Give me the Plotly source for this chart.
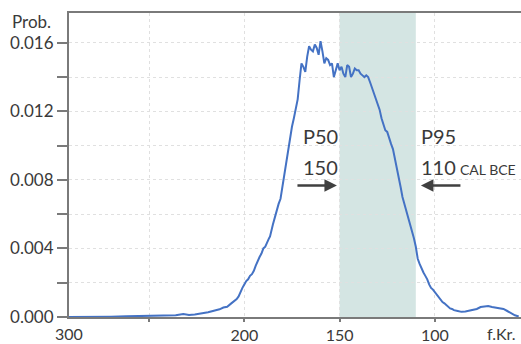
import plotly.graph_objects as go

years = [292, 285, 278, 270, 262, 255, 248, 242, 236, 232, 229, 226, 222, 219, 216, 213, 211, 209,
         207, 205, 204, 203, 202, 201, 200, 199, 198, 197, 196, 195, 194, 193, 192, 191, 190, 189,
         188, 187, 186.5, 186, 185, 184, 183, 182, 181, 180, 179, 178, 177, 176, 175, 174, 173, 172,
         171, 170, 169, 168, 167, 166, 165, 164, 163, 162, 161, 160, 159, 158, 157, 156, 155, 154,
         153, 152, 151, 150, 149, 148, 147, 146, 145, 144, 143, 142, 141, 140, 139, 138, 137, 136,
         135, 134, 133, 132, 131, 130, 129, 128, 127, 126, 125, 124, 123, 122, 121, 120, 119, 118,
         117, 116, 115, 114, 113, 112, 111, 110, 109, 108, 107, 106, 105, 104, 103, 102, 101, 100,
         99, 98, 97, 96, 95, 94, 93, 92, 91, 90, 88, 86, 84, 82, 80, 78, 76, 74, 72, 70, 68, 66, 64,
         62, 60, 58, 56]
prob = [0.0, 0.00002, 0.00003, 0.00002, 0.00004, 0.00005, 0.00006, 0.00008, 0.0001, 0.00018,
        0.00012, 0.00015, 0.00022, 0.00028, 0.00037, 0.00045, 0.00055, 0.0006,
        0.00078, 0.00095, 0.00105, 0.0012, 0.0015, 0.0017, 0.0019, 0.0021, 0.0022, 0.0024, 0.0025,
        0.0027, 0.0030, 0.0033, 0.0035, 0.0037, 0.0040, 0.0041,
        0.0044, 0.0046, 0.0047, 0.0050, 0.0054, 0.0058, 0.0063, 0.0066, 0.0069, 0.0076, 0.0083,
        0.0090, 0.0099, 0.0104, 0.0111, 0.0116, 0.0122, 0.0127,
        0.0138, 0.0148, 0.0146, 0.0143, 0.0152, 0.0158, 0.0156, 0.0155, 0.0159, 0.0157, 0.0153,
        0.0161, 0.0155, 0.0148, 0.0151, 0.0150, 0.0147, 0.0148,
        0.0140, 0.0144, 0.0148, 0.0144, 0.0146, 0.0142, 0.0140, 0.0147, 0.0146, 0.0140, 0.0142,
        0.0145, 0.0144, 0.0144, 0.0142, 0.0141, 0.0140, 0.0141,
        0.0140, 0.0137, 0.0134, 0.0130, 0.0127, 0.0124, 0.0121, 0.0116, 0.0113, 0.0109, 0.0108,
        0.0104, 0.0101, 0.0098, 0.0093, 0.0088, 0.0082, 0.0076,
        0.0070, 0.0066, 0.0062, 0.0059, 0.0054, 0.0050, 0.0046, 0.0041, 0.0034, 0.0031, 0.0028,
        0.0026, 0.0024, 0.0022, 0.0019, 0.0017, 0.0016, 0.00145,
        0.0013, 0.0011, 0.0010, 0.00087, 0.0008, 0.0007, 0.0006, 0.0005, 0.00047, 0.0004, 0.00035,
        0.0003, 0.00032, 0.00036, 0.00042, 0.00047, 0.00058, 0.0006, 0.00064, 0.00058, 0.00055,
        0.0005, 0.00047, 0.00035, 0.0002, 0.0001, 0.00003]

y_ticks = [0.0, 0.002, 0.004, 0.006, 0.008, 0.010, 0.012, 0.014, 0.016]
y_labels = ["0.000", "", "0.004", "", "0.008", "", "0.012", "", "0.016"]
x_ticks = [250, 200, 150, 100]
x_labels = ["", "200", "150", "100"]

p50 = 150
p95 = 110

FONT = "Lato"
TXT = "#3a3a3a"
AX = "#7a7a7a"

fig = go.Figure()
fig.add_trace(go.Scatter(x=years, y=prob, mode="lines",
                         line=dict(color="#4472c4", width=2), hoverinfo="skip"))

fig.add_shape(type="rect", xref="x", yref="paper", x0=p50, x1=p95, y0=0, y1=1,
              fillcolor="#d4e5e3", line=dict(width=0), layer="between")

fig.update_layout(
    width=521, height=344,
    margin=dict(l=69, r=0, t=13, b=27, autoexpand=False),
    paper_bgcolor="white", plot_bgcolor="white",
    showlegend=False,
    font=dict(family=FONT, size=17, color=TXT),
    xaxis=dict(range=[292, 54.8], tickvals=x_ticks, ticktext=x_labels, automargin=False,
               ticks="outside", ticklen=3, tickcolor=AX, tickwidth=1.5,
               showline=True, linecolor=AX, linewidth=2.2, mirror=True,
               showgrid=True, gridcolor="#e0e0e0", griddash="dot", gridwidth=1,
               zeroline=False, tickfont=dict(size=16, color=TXT)),
    yaxis=dict(range=[0, 0.01774], tickvals=y_ticks, ticktext=y_labels, automargin=False,
               ticks="outside", ticklen=10, tickcolor=AX, tickwidth=1.5,
               showline=True, linecolor=AX, linewidth=2.2,
               showgrid=True, gridcolor="#e0e0e0", griddash="dot", gridwidth=1,
               zeroline=False, tickfont=dict(size=17, color=TXT)),
)

ann = [
    dict(text="Prob.", xref="paper", yref="paper", x=0, y=1, xanchor="right", yanchor="middle",
         xshift=-16, yshift=-8, showarrow=False, font=dict(size=17, color=TXT)),
    dict(text="300", xref="paper", yref="paper", x=0, y=0, xanchor="center", yanchor="top",
         yshift=-5, showarrow=False, font=dict(size=16, color=TXT)),
    dict(text="f.Kr.", xref="paper", yref="paper", x=1, y=0, xanchor="right", yanchor="top",
         xshift=-3, yshift=-5, showarrow=False, font=dict(size=16, color=TXT)),
    dict(text="P50", x=170.2, y=0.01059, xanchor="left", yanchor="middle", showarrow=False,
         font=dict(size=20, color=TXT)),
    dict(text=str(p50), x=170.2, y=0.00878, xanchor="left", yanchor="middle", showarrow=False,
         font=dict(size=20, color=TXT)),
    dict(text="P95", x=108.3, y=0.01059, xanchor="left", yanchor="middle", showarrow=False,
         font=dict(size=20, color=TXT)),
    dict(text=str(p95), x=108.3, y=0.00878, xanchor="left", yanchor="middle", showarrow=False,
         font=dict(size=20, color=TXT)),
    dict(text="CAL BCE", x=87.9, y=0.00862, xanchor="left", yanchor="middle", showarrow=False,
         font=dict(size=14, color=TXT)),
    dict(text="", x=151.4, y=0.00768, ax=172.9, ay=0.00768, axref="x", ayref="y",
         showarrow=True, arrowhead=2, arrowsize=1, arrowwidth=2.5, arrowcolor="#404040"),
    dict(text="", x=107.3, y=0.00768, ax=85.8, ay=0.00768, axref="x", ayref="y",
         showarrow=True, arrowhead=2, arrowsize=1, arrowwidth=2.5, arrowcolor="#404040"),
]
fig.update_layout(annotations=ann)

fig.write_html("out.html")
